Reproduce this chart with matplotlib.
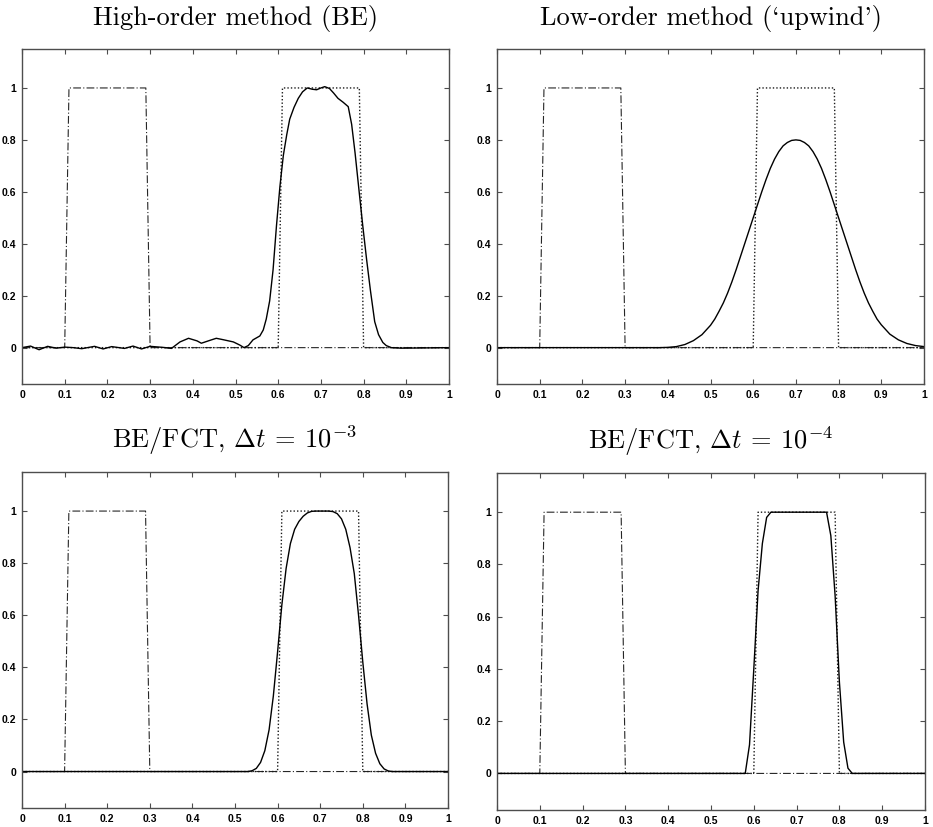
import matplotlib
matplotlib.use("Agg")
import matplotlib.pyplot as plt

plt.rcParams["mathtext.fontset"] = "cm"

# initial condition and exact solution (box profiles on the 0.01 grid)
box0_x = [0.0, 0.10, 0.11, 0.29, 0.30, 1.0]
box0_y = [0, 0, 1, 1, 0, 0]
exact_x = [0.0, 0.60, 0.61, 0.79, 0.80, 1.0]
exact_y = [0, 0, 1, 1, 0, 0]

# high-order (BE) solution
be_x = [0.0, 0.02, 0.04, 0.06, 0.08, 0.10, 0.12, 0.14, 0.17, 0.19, 0.21, 0.24,
        0.26, 0.28, 0.30, 0.33, 0.35, 0.37, 0.39, 0.41, 0.42, 0.44, 0.455, 0.47,
        0.495, 0.51, 0.52, 0.53, 0.541, 0.557, 0.565, 0.572, 0.58, 0.588, 0.596,
        0.604, 0.612, 0.62, 0.627, 0.637, 0.647, 0.657, 0.668, 0.68, 0.69,
        0.70, 0.709, 0.72, 0.73, 0.74, 0.752, 0.764, 0.772, 0.78, 0.79, 0.798,
        0.807, 0.816, 0.826, 0.835, 0.845, 0.853, 0.865, 0.888, 1.0]
be_y = [0.0, 0.006, -0.008, 0.005, -0.002, 0.002, 0.0, -0.004, 0.005, -0.005,
        0.004, -0.003, 0.006, -0.005, 0.005, 0.001, -0.003, 0.022, 0.036, 0.026,
        0.017, 0.028, 0.036, 0.031, 0.022, 0.01, 0.0, 0.008, 0.03, 0.045, 0.068,
        0.11, 0.18, 0.3, 0.47, 0.62, 0.74, 0.82, 0.88, 0.925, 0.96, 0.985, 1.0,
        0.995, 0.993, 1.0, 1.005, 0.998, 0.98, 0.96, 0.945, 0.928, 0.86, 0.75,
        0.594, 0.47, 0.34, 0.22, 0.1, 0.05, 0.02, 0.008, 0.0, -0.002, 0.0]

# low-order ('upwind') solution
up_x = [0.0, 0.38, 0.40, 0.42, 0.44, 0.46, 0.48, 0.50, 0.51, 0.52, 0.53, 0.54,
        0.55, 0.56, 0.57, 0.58, 0.59, 0.60, 0.61, 0.62, 0.63, 0.64, 0.65, 0.66,
        0.67, 0.68, 0.69, 0.70, 0.71, 0.72, 0.73, 0.74, 0.75, 0.76, 0.77, 0.78,
        0.79, 0.80, 0.81, 0.82, 0.83, 0.84, 0.85, 0.86, 0.87, 0.88, 0.89, 0.90,
        0.92, 0.94, 0.96, 0.98, 1.0]
up_y = [0.0, 0.0, 0.001, 0.004, 0.012, 0.027, 0.05, 0.086, 0.11, 0.14, 0.172,
        0.21, 0.253, 0.30, 0.35, 0.40, 0.45, 0.50, 0.55, 0.60, 0.647, 0.69, 0.726,
        0.755, 0.777, 0.79, 0.798, 0.80, 0.798, 0.79, 0.777, 0.755, 0.726, 0.69,
        0.647, 0.60, 0.55, 0.50, 0.45, 0.40, 0.35, 0.30, 0.253, 0.21, 0.172, 0.14,
        0.11, 0.088, 0.052, 0.03, 0.016, 0.008, 0.004]

# BE/FCT, dt = 1e-3
fct3_x = [0.0, 0.53, 0.54, 0.55, 0.56, 0.57, 0.58, 0.59, 0.60, 0.61, 0.62, 0.63,
          0.64, 0.65, 0.66, 0.67, 0.68, 0.69, 0.72, 0.73, 0.74, 0.75, 0.76,
          0.77, 0.78, 0.79, 0.80, 0.81, 0.82, 0.83, 0.84, 0.85, 0.86, 0.87, 1.0]
fct3_y = [0.0, 0.0, 0.003, 0.012, 0.035, 0.08, 0.16, 0.29, 0.46, 0.64, 0.78,
          0.875, 0.93, 0.96, 0.98, 0.993, 0.999, 1.0, 1.0, 0.998, 0.99, 0.97,
          0.93, 0.86, 0.76, 0.60, 0.42, 0.26, 0.14, 0.07, 0.03, 0.01, 0.002, 0.0,
          0.0]

# BE/FCT, dt = 1e-4
fct4_x = [0.0, 0.58, 0.59, 0.60, 0.61, 0.62, 0.63, 0.64, 0.77, 0.78, 0.79, 0.80,
          0.81, 0.82, 0.83, 1.0]
fct4_y = [0.0, 0.0, 0.11, 0.40, 0.70, 0.88, 0.98, 1.0, 1.0, 0.91, 0.68, 0.35,
          0.12, 0.02, 0.0, 0.0]

titles = [
    "High-order method (BE)",
    "Low-order method (`upwind')",
    r"BE/FCT, $\Delta t\:=\:10^{-3}$",
    r"BE/FCT, $\Delta t\:=\:10^{-4}$",
]
solutions = [(be_x, be_y), (up_x, up_y), (fct3_x, fct3_y), (fct4_x, fct4_y)]

xticks = [0, 0.1, 0.2, 0.3, 0.4, 0.5, 0.6, 0.7, 0.8, 0.9, 1]
xticklabels = ["0", "0.1", "0.2", "0.3", "0.4", "0.5", "0.6", "0.7", "0.8", "0.9", "1"]
yticks = [0, 0.2, 0.4, 0.6, 0.8, 1]
yticklabels = ["0", "0.2", "0.4", "0.6", "0.8", "1"]

W, H = 933, 827
# axes rectangles in pixels: left, top, right, bottom
rects = [(22, 49, 449, 384), (497, 49, 924, 384),
         (22, 472, 448, 808), (497, 473, 925, 810)]

fig = plt.figure(figsize=(W / 100, H / 100), dpi=100)

for (l, t, r, b), title, (sx, sy) in zip(rects, titles, solutions):
    ax = fig.add_axes([l / W, 1 - b / H, (r - l) / W, (b - t) / H])
    ax.plot(box0_x, box0_y, color="0.15", lw=0.8, ls=(0, (7, 2, 1, 2)))
    ax.plot(exact_x, exact_y, color="0.1", lw=1.0, ls=(0, (1, 1.5)))
    ax.plot(sx, sy, color="black", lw=1.0)

    ax.set_xlim(0, 1)
    ax.set_ylim(-0.14, 1.15)
    ax.set_xticks(xticks)
    ax.set_xticklabels(xticklabels)
    ax.set_yticks(yticks)
    ax.set_yticklabels(yticklabels)
    ax.tick_params(direction="in", length=3.5, width=0.8, color="0.3",
                   top=True, right=True, labelsize=7.5, pad=4)
    for lab in ax.get_xticklabels() + ax.get_yticklabels():
        lab.set_fontfamily("Liberation Sans")
        lab.set_fontweight("bold")
    for sp in ax.spines.values():
        sp.set_color("0.3")
        sp.set_linewidth(1.0)
    ax.set_title(title, fontsize=19, pad=17, family=["cmr10", "DejaVu Serif"])

fig.savefig("out.png", dpi=100)
